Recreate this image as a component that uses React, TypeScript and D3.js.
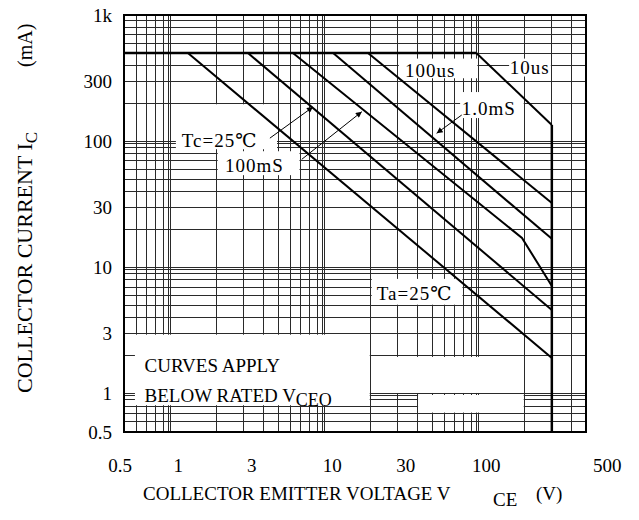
import React from 'react';
import * as d3 from 'd3';

// axes
const xDomain = [0.5, 500];
const yDomain = [0.5, 1000];
const xTicks = [0.5, 1, 3, 10, 30, 100, 500];
const xTickLabels = ['0.5', '1', '3', '10', '30', '100', '500'];
const yTicks = [0.5, 1, 3, 10, 30, 100, 300, 1000];
const yTickLabels = ['0.5', '1', '3', '10', '30', '100', '300', '1k'];

// SOA limits (V, mA)
const currentLimit = 500;
const voltageLimit = 300;

// curves as [Vce (V), Ic (mA)]
const ta25 = [[1.3, 500], [300, 1.93]];
const tc25 = [[3.19, 500], [300, 4.62]];
const ms100 = [[6.25, 500], [192, 17.2], [300, 7.16]];
const ms1 = [[11.4, 500], [300, 16.9]];
const us100 = [[19.2, 500], [300, 32.5]];
const us10 = [[97, 500], [300, 134.6]];
const curves = [ta25, tc25, ms100, ms1, us100, us10];

// annotation labels, anchored in data space
const labels = [
  { text: 'Tc=25℃', v: 1.185, i: 90 },
  { text: '100mS', v: 2.26, i: 57 },
  { text: '100us', v: 33.4, i: 323 },
  { text: '10us', v: 160, i: 344 },
  { text: '1.0mS', v: 78, i: 161 },
  { text: 'Ta=25℃', v: 21.9, i: 5.55 },
];
const arrows = [
  [[4.43, 106], [8.43, 187]],
  [[7.13, 72], [17.5, 171.6]],
  [[78, 161.6], [53.6, 115.8]],
];

// white areas behind the labels
const boxes = [
  { v: [1.07, 5], i: [200, 85] },
  { v: [2, 7], i: [85, 53] },
  { v: [30, 100], i: [460, 310] },
  { v: [156, 300], i: [460, 320] },
  { v: [75, 200], i: [250, 150] },
  { v: [20, 80], i: [8.3, 5] },
  { v: [0.58, 20], i: [3, 0.8] },
  { v: [20, 200], i: [2, 1] },
  { v: [40, 200], i: [1, 0.7] },
];

const FONT = "'Liberation Serif', 'DejaVu Serif', 'Noto Sans CJK SC', serif";

export default function App() {
  const x = d3.scaleLog().domain(xDomain).range([124, 586]);
  const y = d3.scaleLog().domain(yDomain).range([432, 15]);
  const line = d3.line<number[]>().x(d => x(d[0])).y(d => y(d[1]));

  const isDecade = (v: number) => Math.abs(Math.log10(v) - Math.round(Math.log10(v))) < 1e-9;
  const xGrid = x.ticks().filter(v => v > xDomain[0] && v < xDomain[1]);
  const yGrid = y.ticks().filter(v => v > yDomain[0] && v < yDomain[1]);

  const [x0, x1] = x.range();
  const [y1, y0] = y.range();

  return (
    <svg width={639} height={520} style={{ position: 'absolute', left: 0, top: 0, background: '#fff' }}
      fontFamily={FONT}>
      <defs>
        <marker id="ah" viewBox="0 0 10 10" refX={10} refY={5} markerWidth={11} markerHeight={6}
          markerUnits="userSpaceOnUse" orient="auto">
          <path d="M0,0 L10,5 L0,10 z" fill="#000" />
        </marker>
      </defs>

      {/* grid */}
      <g stroke="#2a2a2a" strokeWidth={1} shapeRendering="crispEdges">
        {xGrid.map(v => (
          <g key={'x' + v}>
            <line x1={x(v)} x2={x(v)} y1={y0} y2={y1} />
            {isDecade(v) && <line x1={x(v) - 2} x2={x(v) - 2} y1={y0} y2={y1} />}
          </g>
        ))}
        {yGrid.map(v => (
          <g key={'y' + v}>
            <line x1={x0} x2={x1} y1={y(v)} y2={y(v)} />
            {isDecade(v) && <line x1={x0} x2={x1} y1={y(v) + 2} y2={y(v) + 2} />}
          </g>
        ))}
      </g>

      {/* label backgrounds */}
      {boxes.map((b, k) => (
        <rect key={k} x={x(b.v[0]) + 1} y={y(b.i[0]) + 1}
          width={x(b.v[1]) - x(b.v[0]) - 2} height={y(b.i[1]) - y(b.i[0]) - 2} fill="#fff" />
      ))}

      {/* frame */}
      <rect x={x0} y={y0} width={x1 - x0} height={y1 - y0} fill="none" stroke="#000" strokeWidth={2} />

      {/* limits */}
      <line x1={x0} x2={x(us10[0][0])} y1={y(currentLimit)} y2={y(currentLimit)} stroke="#000" strokeWidth={2.5} />
      <line x1={x(voltageLimit)} x2={x(voltageLimit)} y1={y(us10[us10.length - 1][1])} y2={y1}
        stroke="#000" strokeWidth={2.5} />

      {curves.map((c, k) => (
        <path key={k} d={line(c) || ''} fill="none" stroke="#000" strokeWidth={2} />
      ))}

      {arrows.map((a, k) => (
        <line key={k} x1={x(a[0][0])} y1={y(a[0][1])} x2={x(a[1][0])} y2={y(a[1][1])}
          stroke="#000" strokeWidth={1} markerEnd="url(#ah)" />
      ))}

      {labels.map((l, k) => (
        <text key={k} x={x(l.v)} y={y(l.i)} fontSize={19} letterSpacing={1} fill="#000">{l.text}</text>
      ))}

      <text x={x(0.68)} y={y(1.5)} fontSize={19} fill="#000">CURVES APPLY</text>
      <text x={x(0.68)} y={y(0.87)} fontSize={19} fill="#000">
        BELOW RATED V<tspan fontSize={18} dy={4}>CEO</tspan>
      </text>

      {/* x ticks */}
      {xTicks.map((v, k) => {
        const last = k === xTicks.length - 1;
        const dx = k === 0 ? -4 : last ? 7 : 8;
        return (
          <text key={v} x={x(v) + dx} y={472} fontSize={19} textAnchor={last ? 'start' : 'middle'} fill="#000">
            {xTickLabels[k]}
          </text>
        );
      })}
      {/* y ticks */}
      {yTicks.map((v, k) => (
        <text key={v} x={112} y={y(v) + 6.5} fontSize={19} textAnchor="end" fill="#000">{yTickLabels[k]}</text>
      ))}

      <text x={143} y={500} fontSize={19} fill="#000">
        COLLECTOR EMITTER VOLTAGE V
        <tspan x={493} dy={6} fontSize={19}>CE</tspan>
        <tspan x={536} dy={-6}>(V)</tspan>
      </text>

      <text transform="translate(32,393) rotate(-90)" fontSize={22} fill="#000">
        COLLECTOR CURRENT I<tspan fontSize={17} dy={5}>C</tspan>
      </text>
      <text transform="translate(32,67) rotate(-90)" fontSize={20} fill="#000">(mA)</text>
    </svg>
  );
}
